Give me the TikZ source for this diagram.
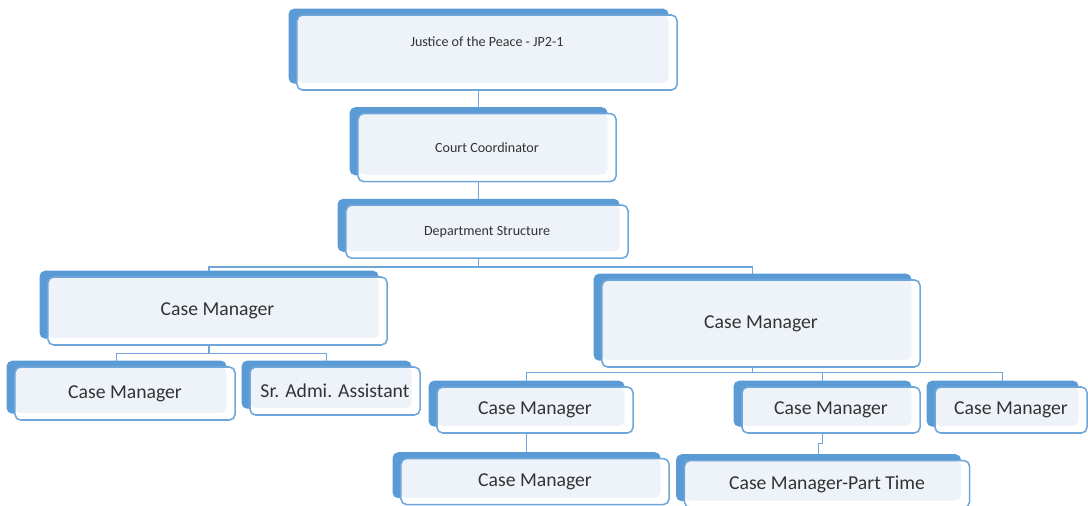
\documentclass[tikz,border=0pt]{standalone}
\usepackage{fontspec}
\setmainfont{Carlito}
\usepackage{tikz}
\usetikzlibrary{positioning, shadows, backgrounds}
\usepackage{xcolor}
\definecolor{cardback}{HTML}{5B9BD5}
\definecolor{cardline}{HTML}{6FA6DA}
\definecolor{cardfill}{HTML}{EEF3F9}
\definecolor{cardtext}{HTML}{333333}
\newcommand{\bdx}{-6pt}

\begin{document}
\begin{tikzpicture}[x=0.025cm, y=-0.025cm,
    card/.style={draw=cardline, line width=1.1pt, rounded corners=4pt, fill=white, text=cardtext, align=center,
        general shadow={fill=cardback, shadow xshift=-6pt, shadow yshift=4.5pt},
        path picture={\fill[cardfill] ([yshift=5pt]path picture bounding box.south west) rectangle ([xshift=-6pt]path picture bounding box.north east);}},
    small/.style={card, font=\fontsize{10}{12}\selectfont},
    big/.style={card, font=\fontsize{14}{16}\selectfont},
    link/.style={draw=cardline, line width=1pt}
]
\useasboundingbox (0,0) rectangle (1088,506);

% Top of the chart
\node[small, minimum width=9.5cm, minimum height=1.875cm, text depth=16pt] (jp) at (487,52.5) {Justice of the Peace - JP2-1};
\node[small, minimum width=6.45cm, minimum height=1.7cm, below=0.55cm of jp] (cc) {Court Coordinator};
\node[small, minimum width=7.05cm, minimum height=1.325cm, below=0.55cm of cc] (dept) {Department Structure};

% Left branch
\node[big, minimum width=8.475cm, minimum height=1.7cm] (cmL) at (217.5,311) {Case Manager};
\node[big, minimum width=5.5cm, minimum height=1.325cm] (cmLL) at (125,393.5) {Case Manager};
\node[big, minimum width=4.25cm, minimum height=1.2cm] (asst) at (335,391) {Sr. Admi. Assistant};

% Right branch
\node[big, minimum width=7.95cm, minimum height=2.175cm] (cmR) at (761,323.5) {Case Manager};
\node[big, minimum width=4.9cm, minimum height=1.15cm] (cmA) at (535,410) {Case Manager};
\node[big, minimum width=4.45cm, minimum height=1.15cm] (cmB) at (831,410) {Case Manager};
\node[big, minimum width=3.8cm, minimum height=1.15cm] (cmC) at (1011,410) {Case Manager};
\node[big, minimum width=6.7cm, minimum height=1.15cm, below=0.6cm of cmA] (cmD) {Case Manager};
\node[big, minimum width=7.125cm, minimum height=1.175cm, below=0.65cm of cmB, xshift=-0.1cm] (cmPT) {Case Manager-Part Time};

% Connectors (behind the cards)
\begin{scope}[on background layer]
\draw[link] ([xshift=\bdx]jp.south) -- ([xshift=\bdx]cc.north);
\draw[link] ([xshift=\bdx]cc.south) -- ([xshift=\bdx]dept.north);
\foreach \kid in {cmL,cmR} {
    \draw[link] ([xshift=\bdx]dept.south) -- ++(0,8) -| ([xshift=\bdx]\kid.north);
}
\foreach \kid in {cmLL,asst} {
    \draw[link] ([xshift=\bdx]cmL.south) -- ++(0,8) -| ([xshift=\bdx]\kid.north);
}
\foreach \kid in {cmA,cmB,cmC} {
    \draw[link] ([xshift=\bdx]cmR.south) -- ++(0,5) -| ([xshift=\bdx]\kid.north);
}
\draw[link] ([xshift=\bdx]cmA.south) -- ([xshift=\bdx]cmD.north);
\draw[link] ([xshift=\bdx]cmB.south) -- ++(0,10) -| ([xshift=\bdx]cmPT.north);
\end{scope}

\end{tikzpicture}
\end{document}
